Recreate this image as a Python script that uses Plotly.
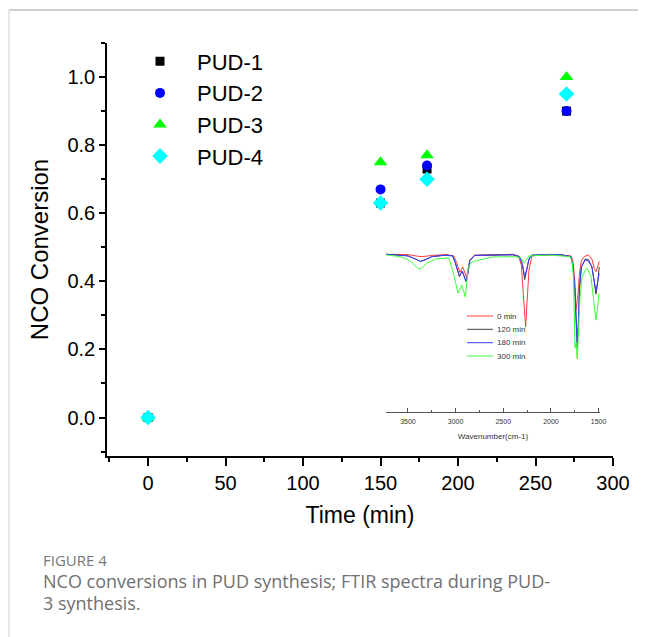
import plotly.graph_objects as go

# ---- main scatter data ----
time_min = [0, 150, 180, 270]
pud1 = [0.0, 0.63, 0.73, 0.90]
pud2 = [0.0, 0.67, 0.74, 0.90]
pud3 = [0.0, 0.75, 0.77, 1.00]
pud4 = [0.0, 0.63, 0.70, 0.95]

# ---- inset FTIR spectra (wavenumber, transmittance-like units) ----
wn_0 = [3730, 3500, 3400, 3350, 3250, 3100, 3020, 2990, 2955, 2925, 2885, 2850, 2800, 2400, 2340, 2310,
        2290, 2265, 2250, 2230, 2200, 2000, 1790, 1770, 1750, 1737, 1715, 1700, 1680, 1650, 1608, 1570,
        1545, 1527, 1510, 1493]
t_0 = [100, 99.8, 98.8, 98.5, 99.3, 99.8, 99.0, 95.0, 88.5, 92.0, 85.5, 96.5, 99.5, 100, 99.0, 93.0,
       75.0, 54.0, 70.0, 90.0, 99.0, 100, 99.0, 96.0, 84.0, 64.7, 75.0, 88.0, 96.0, 98.5, 99.7, 97.0,
       91.0, 89.0, 92.0, 95.5]

wn_120 = [3730, 3500, 3420, 3370, 3320, 3250, 3100, 3030, 3000, 2960, 2930, 2890, 2870, 2850, 2800,
          2400, 2330, 2300, 2275, 2255, 2230, 2200, 1900, 1790, 1768, 1748, 1724, 1712, 1700, 1680,
          1640, 1605, 1570, 1545, 1527, 1510, 1493]
t_120 = [100, 99.0, 97.0, 95.5, 96.5, 98.5, 99.5, 99.0, 94.0, 86.0, 89.4, 82.8, 88.0, 96.0, 99.3,
         99.7, 98.5, 94.0, 84.0, 89.0, 97.0, 99.5, 99.8, 98.5, 93.0, 76.0, 40.6, 55.0, 78.0, 92.0,
         97.0, 96.6, 92.0, 82.0, 74.8, 82.0, 92.0]

wn_180 = [3730, 3500, 3420, 3370, 3320, 3250, 3100, 3030, 3000, 2960, 2930, 2890, 2870, 2850, 2800,
          2400, 2330, 2300, 2275, 2255, 2230, 2200, 1900, 1790, 1768, 1748, 1724, 1712, 1700, 1680,
          1640, 1605, 1570, 1545, 1527, 1510, 1493]
t_180 = [100, 99.0, 97.0, 95.5, 96.5, 98.5, 99.5, 99.0, 94.0, 86.0, 89.4, 82.8, 88.0, 96.0, 99.3,
         99.7, 98.5, 94.0, 86.0, 90.0, 97.0, 99.5, 99.8, 98.5, 92.0, 78.6, 43.8, 57.0, 80.0, 92.0,
         96.5, 95.6, 92.0, 83.0, 76.6, 82.0, 88.0]

wn_300 = [3730, 3580, 3480, 3420, 3390, 3350, 3300, 3210, 3070, 3020, 2975, 2935, 2897, 2868, 2840,
          2808, 2614, 2400, 2320, 2295, 2280, 2260, 2230, 2000, 1800, 1780, 1762, 1748, 1736, 1724,
          1710, 1695, 1675, 1640, 1619, 1580, 1550, 1527, 1512, 1496]
t_300 = [99.6, 98.5, 96.0, 92.0, 90.7, 91.5, 94.5, 97.0, 97.7, 87.3, 75.5, 80.5, 72.9, 91.3, 94.5,
         95.6, 98.3, 98.5, 98.0, 95.5, 94.5, 96.5, 99.0, 99.5, 98.5, 96.0, 85.0, 40.6, 44.0, 33.6,
         50.0, 72.0, 85.0, 90.0, 91.1, 86.0, 70.0, 58.3, 65.0, 75.3]

x_ticks = [0, 50, 100, 150, 200, 250, 300]
y_ticks = [0.0, 0.2, 0.4, 0.6, 0.8, 1.0]
inset_ticks = [3500, 3000, 2500, 2000, 1500]
spectra_labels = ["0 min", "120 min", "180 min", "300 min"]

FONT = "Liberation Sans, Arial, sans-serif"

fig = go.Figure()

series = [
    ("PUD-1", pud1, "square", "#000000", 9),
    ("PUD-2", pud2, "circle", "#0000ff", 10),
    ("PUD-3", pud3, "triangle-up", "#00ff00", 12),
    ("PUD-4", pud4, "diamond", "#00ffff", 12),
]
for name, vals, sym, col, sz in series:
    fig.add_trace(go.Scatter(x=time_min, y=vals, mode="markers", name=name,
                             marker=dict(symbol=sym, color=col, size=sz, line=dict(width=0))))

spec_colors = ["#ff3b3b", "#404040", "#3b3bff", "#3bff3b"]
for lab, wn, t, col in zip(spectra_labels, [wn_0, wn_120, wn_180, wn_300],
                           [t_0, t_120, t_180, t_300], spec_colors):
    fig.add_trace(go.Scatter(x=wn, y=t, mode="lines", name=lab, showlegend=False,
                             line=dict(color=col, width=1), xaxis="x2", yaxis="y2"))

# page body has an 8px margin: figure origin sits at window (8, 8)
OFF = 8
W, H = 646 - OFF, 637 - OFF
# plot area in window coords: x 107..613, y 43..456
PL, PR, PT, PB = 107, 613, 43, 456
L, T = PL - OFF, PT - OFF
R, B = W - (PR - OFF), H - (PB - OFF)
pw, ph = PR - PL, PB - PT

def px(x):
    return (x - PL) / pw

def py(y):
    return 1 - (y - PT) / ph

fig.update_layout(
    width=W, height=H,
    margin=dict(l=L, r=R, t=T, b=B, pad=0),
    paper_bgcolor="white", plot_bgcolor="white",
    font=dict(family=FONT, color="black"),
    showlegend=True,
    legend=dict(x=px(123), y=py(40.5), xanchor="left", yanchor="top",
                font=dict(size=22, family=FONT, color="black"),
                itemwidth=64, bgcolor="rgba(0,0,0,0)", borderwidth=0),
    xaxis=dict(domain=[0, 1], range=[-26.5, 300], tickvals=x_ticks,
               showline=True, linecolor="black", linewidth=1.5, mirror=False,
               ticks="outside", ticklen=8, tickwidth=1.5, tickcolor="black",
               minor=dict(dtick=25, ticks="outside", ticklen=4, tickwidth=1.5, tickcolor="black"),
               showgrid=False, zeroline=False,
               tickfont=dict(size=20, family=FONT),
               title=dict(text="Time (min)", font=dict(size=23, family=FONT), standoff=14)),
    yaxis=dict(domain=[0, 1], range=[-0.113, 1.1], tickvals=y_ticks, tickformat=".1f",
               showline=True, linecolor="black", linewidth=1.5, mirror=False,
               ticks="outside", ticklen=6, tickwidth=1.5, tickcolor="black",
               minor=dict(dtick=0.1, ticks="outside", ticklen=4, tickwidth=1.5, tickcolor="black"),
               showgrid=False, zeroline=False,
               tickfont=dict(size=20, family=FONT),
               title=dict(text="NCO Conversion", font=dict(size=24, family=FONT), standoff=12)),
    xaxis2=dict(domain=[px(386), px(600)], anchor="y2", range=[3730, 1485],
                tickvals=inset_ticks, showline=True, linecolor="#555555", linewidth=1,
                ticks="inside", ticklen=4, tickwidth=1, tickcolor="#555555",
                minor=dict(dtick=250, ticks="inside", ticklen=2, tickwidth=1, tickcolor="#555555"),
                showgrid=False, zeroline=False, ticklabelstandoff=3,
                tickfont=dict(size=7, family=FONT, color="#333333"),
                title=dict(text="Wavenumber(cm-1)", font=dict(size=8, family=FONT, color="#333333"),
                           standoff=8)),
    yaxis2=dict(domain=[py(412), py(248)], anchor="x2", range=[0, 104], visible=False),
)

# inset legend (decoration)
leg_rows = [316, 329.3, 342.7, 356]
for lab, col, yy in zip(spectra_labels, spec_colors, leg_rows):
    fig.add_shape(type="line", xref="paper", yref="paper",
                  x0=px(467), x1=px(493), y0=py(yy), y1=py(yy),
                  line=dict(color=col, width=1))
    fig.add_annotation(x=px(495), y=py(yy), xref="paper", yref="paper", text=lab,
                       showarrow=False, xanchor="left", yanchor="middle",
                       font=dict(size=8, family=FONT, color="#333333"))

# card border
fig.add_shape(type="line", xref="paper", yref="paper", x0=px(9), x1=px(650), y0=py(10), y1=py(10),
              line=dict(color="#d0d0d0", width=2))
fig.add_shape(type="line", xref="paper", yref="paper", x0=px(9), x1=px(9), y0=py(10), y1=py(640),
              line=dict(color="#d0d0d0", width=1))

# caption
CAP = "Open Sans, Noto Sans, sans-serif"
fig.add_annotation(x=px(41), y=py(560), xref="paper", yref="paper", text="FIGURE 4",
                   showarrow=False, xanchor="left", yanchor="middle",
                   font=dict(size=15, family=CAP, color="#777777"))
fig.add_annotation(x=px(41), y=py(581), xref="paper", yref="paper",
                   text="NCO conversions in PUD synthesis; FTIR spectra during PUD-",
                   showarrow=False, xanchor="left", yanchor="middle",
                   font=dict(size=18, family=CAP, color="#707070"))
fig.add_annotation(x=px(41), y=py(603), xref="paper", yref="paper", text="3 synthesis.",
                   showarrow=False, xanchor="left", yanchor="middle",
                   font=dict(size=18, family=CAP, color="#707070"))

fig.write_html("out.html")
